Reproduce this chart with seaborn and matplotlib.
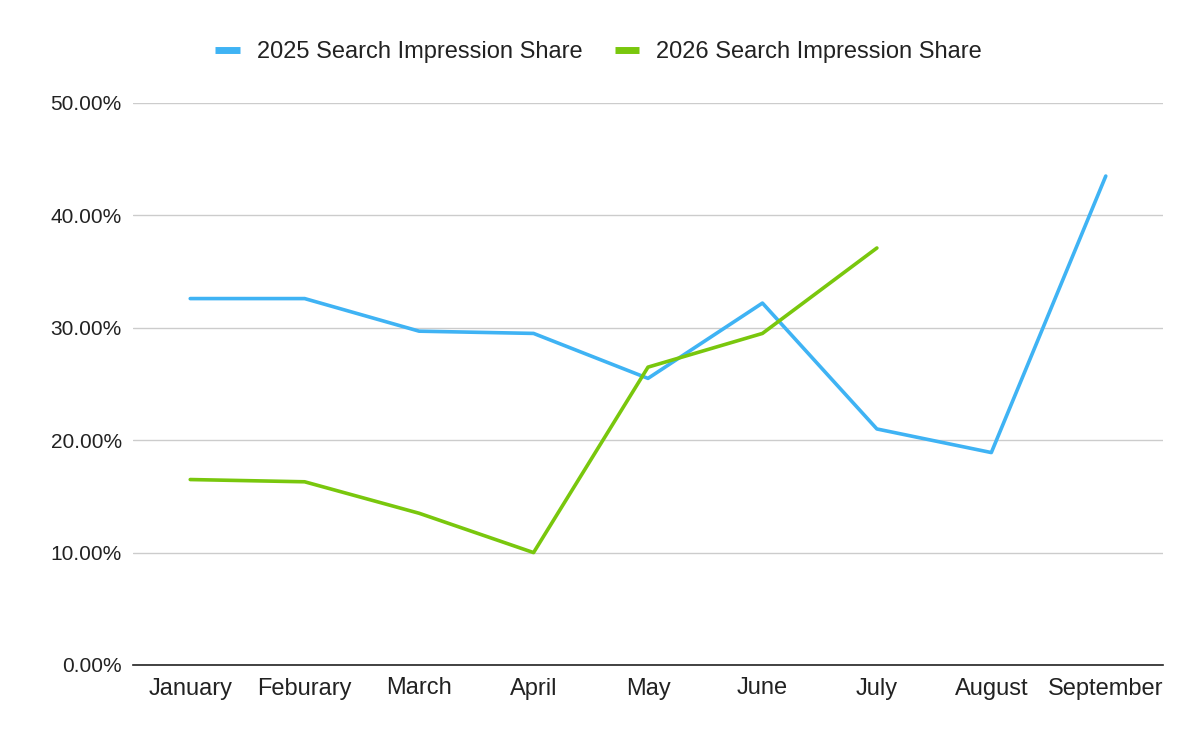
import numpy as np
import pandas as pd
import matplotlib
matplotlib.use('Agg')
import matplotlib.pyplot as plt
import seaborn as sns
from matplotlib.ticker import FuncFormatter

# data (percent)
months = ['January', 'Feburary', 'March', 'April', 'May', 'June', 'July', 'August', 'September']
share_2025 = [32.6, 32.6, 29.7, 29.5, 25.5, 32.2, 21.0, 18.9, 43.5]
share_2026 = [16.5, 16.3, 13.5, 10.0, 26.5, 29.5, 37.1, np.nan, np.nan]
series_names = ['2025 Search Impression Share', '2026 Search Impression Share']

df = pd.DataFrame({'Month': months, series_names[0]: share_2025, series_names[1]: share_2026})
long = df.melt(id_vars='Month', var_name='Series', value_name='Share').dropna()

sns.set_style('white')
plt.rcParams['font.family'] = ['Liberation Sans', 'DejaVu Sans']

fig = plt.figure(figsize=(12, 7.42), dpi=100)
ax = fig.add_axes([133 / 1200, 1 - 665 / 742, 1030 / 1200, 562 / 742])

palette = {series_names[0]: '#3FB3F4', series_names[1]: '#79C70D'}
sns.lineplot(data=long, x='Month', y='Share', hue='Series', palette=palette,
             linewidth=2.6, sort=False, ax=ax, legend=True)

ax.set_xlim(-0.5, len(months) - 0.5)
ax.set_ylim(0, 50)
ax.set_yticks([0, 10, 20, 30, 40, 50])
ax.yaxis.set_major_formatter(FuncFormatter(lambda v, p: f'{v:.2f}%'))
ax.grid(axis='y', color='#CCCCCC', linewidth=1)
ax.set_axisbelow(True)
ax.set_xlabel('')
ax.set_ylabel('')
for s in ['top', 'right', 'left']:
    ax.spines[s].set_visible(False)
ax.spines['bottom'].set_color('#222222')
ax.spines['bottom'].set_linewidth(1.2)
ax.tick_params(axis='both', length=0, colors='#222222')
ax.tick_params(axis='y', pad=8, labelsize=15)
ax.tick_params(axis='x', pad=9, labelsize=17)

handles, labels = ax.get_legend_handles_labels()
ax.legend(handles, labels, loc='center', bbox_to_anchor=(0.452, 1.09), ncol=2,
          frameon=False, fontsize=17, handlelength=1.05, handletextpad=0.72,
          columnspacing=1.36, labelcolor='#222222')
for line in ax.get_legend().get_lines():
    line.set_linewidth(5)
    line.set_solid_capstyle('butt')

fig.savefig('out.png', dpi=100)
